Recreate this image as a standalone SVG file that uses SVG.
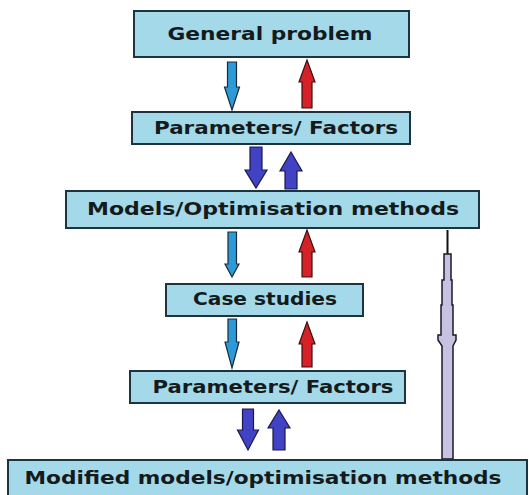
<svg xmlns="http://www.w3.org/2000/svg" width="529" height="495" viewBox="0 0 529 495">
<style>
.box{fill:#a3d9e8;stroke:#1d3340;stroke-width:2}
.t{font-family:"DejaVu Sans","Verdana",sans-serif;font-weight:bold;font-size:17.5px;fill:#151a1c;text-anchor:middle}
.lb{fill:#2b9ad6;stroke:#1a2a3a;stroke-width:1.2}
.rd{fill:#d42228;stroke:#3a1010;stroke-width:1.2}
.db{fill:#4242c4;stroke:#1a1a4a;stroke-width:1.2}
</style>
<rect width="529" height="495" fill="#ffffff"/>
<g id="connectors">
<path class="lb" d="M227.5,62 H236.5 V87 H239.5 L232,110 L224.5,87 H227.5 Z"/>
<path class="rd" d="M307,60 L315,82 H312 V108 H302 V82 H299 Z"/>
<path class="db" d="M250,147 H262 V170 H267 L256,188 L245,170 H250 Z"/>
<path class="db" d="M291,152 L302,171 H297 V189 H285 V171 H280 Z"/>
<path class="lb" d="M228,232 H236.5 V264 H239 L232,277 L225,264 H228 Z"/>
<path class="rd" d="M307,230 L315,252 H312 V277 H302 V252 H299 Z"/>
<path class="lb" d="M228,319 H236.5 V342 H239 L232,368 L225,342 H228 Z"/>
<path class="rd" d="M307,322 L315,344 H312 V367 H302 V344 H299 Z"/>
<path class="db" d="M242.5,409 H253.5 V430 H258.5 L248,450 L237.5,430 H242.5 Z"/>
<path class="db" d="M279,410 L290,428 H285 V450 H273 V428 H268 Z"/>
<line x1="447.5" y1="230" x2="447.5" y2="256" stroke="#111" stroke-width="2"/>
<path d="M444,254 H451 V280 H452 V305 H453 V335 H456 V340 L453,346 V459 H442 V346 L438,340 V335 H441 V305 H442 V280 H444 Z" fill="#c8c2e2" stroke="#1a1a2a" stroke-width="1.5"/>
</g>
<g id="n1"><rect class="box" x="134" y="11" width="275" height="46"/><text class="t" x="270" y="40" textLength="205" lengthAdjust="spacingAndGlyphs">General problem</text></g>
<g id="n2"><rect class="box" x="132" y="112" width="278" height="32"/><text class="t" x="276" y="134" textLength="244" lengthAdjust="spacingAndGlyphs">Parameters/ Factors</text></g>
<g id="n3"><rect class="box" x="66" y="191" width="413" height="37"/><text class="t" x="273" y="215" textLength="372" lengthAdjust="spacingAndGlyphs">Models/Optimisation methods</text></g>
<g id="n4"><rect class="box" x="166" y="284" width="197" height="32"/><text class="t" x="265" y="305" textLength="144" lengthAdjust="spacingAndGlyphs">Case studies</text></g>
<g id="n5"><rect class="box" x="130" y="371" width="275" height="32"/><text class="t" x="273" y="393" textLength="241" lengthAdjust="spacingAndGlyphs">Parameters/ Factors</text></g>
<g id="n6"><rect class="box" x="8" y="460" width="519" height="42"/><text class="t" x="263" y="484" textLength="477" lengthAdjust="spacingAndGlyphs">Modified models/optimisation methods</text></g>
</svg>
